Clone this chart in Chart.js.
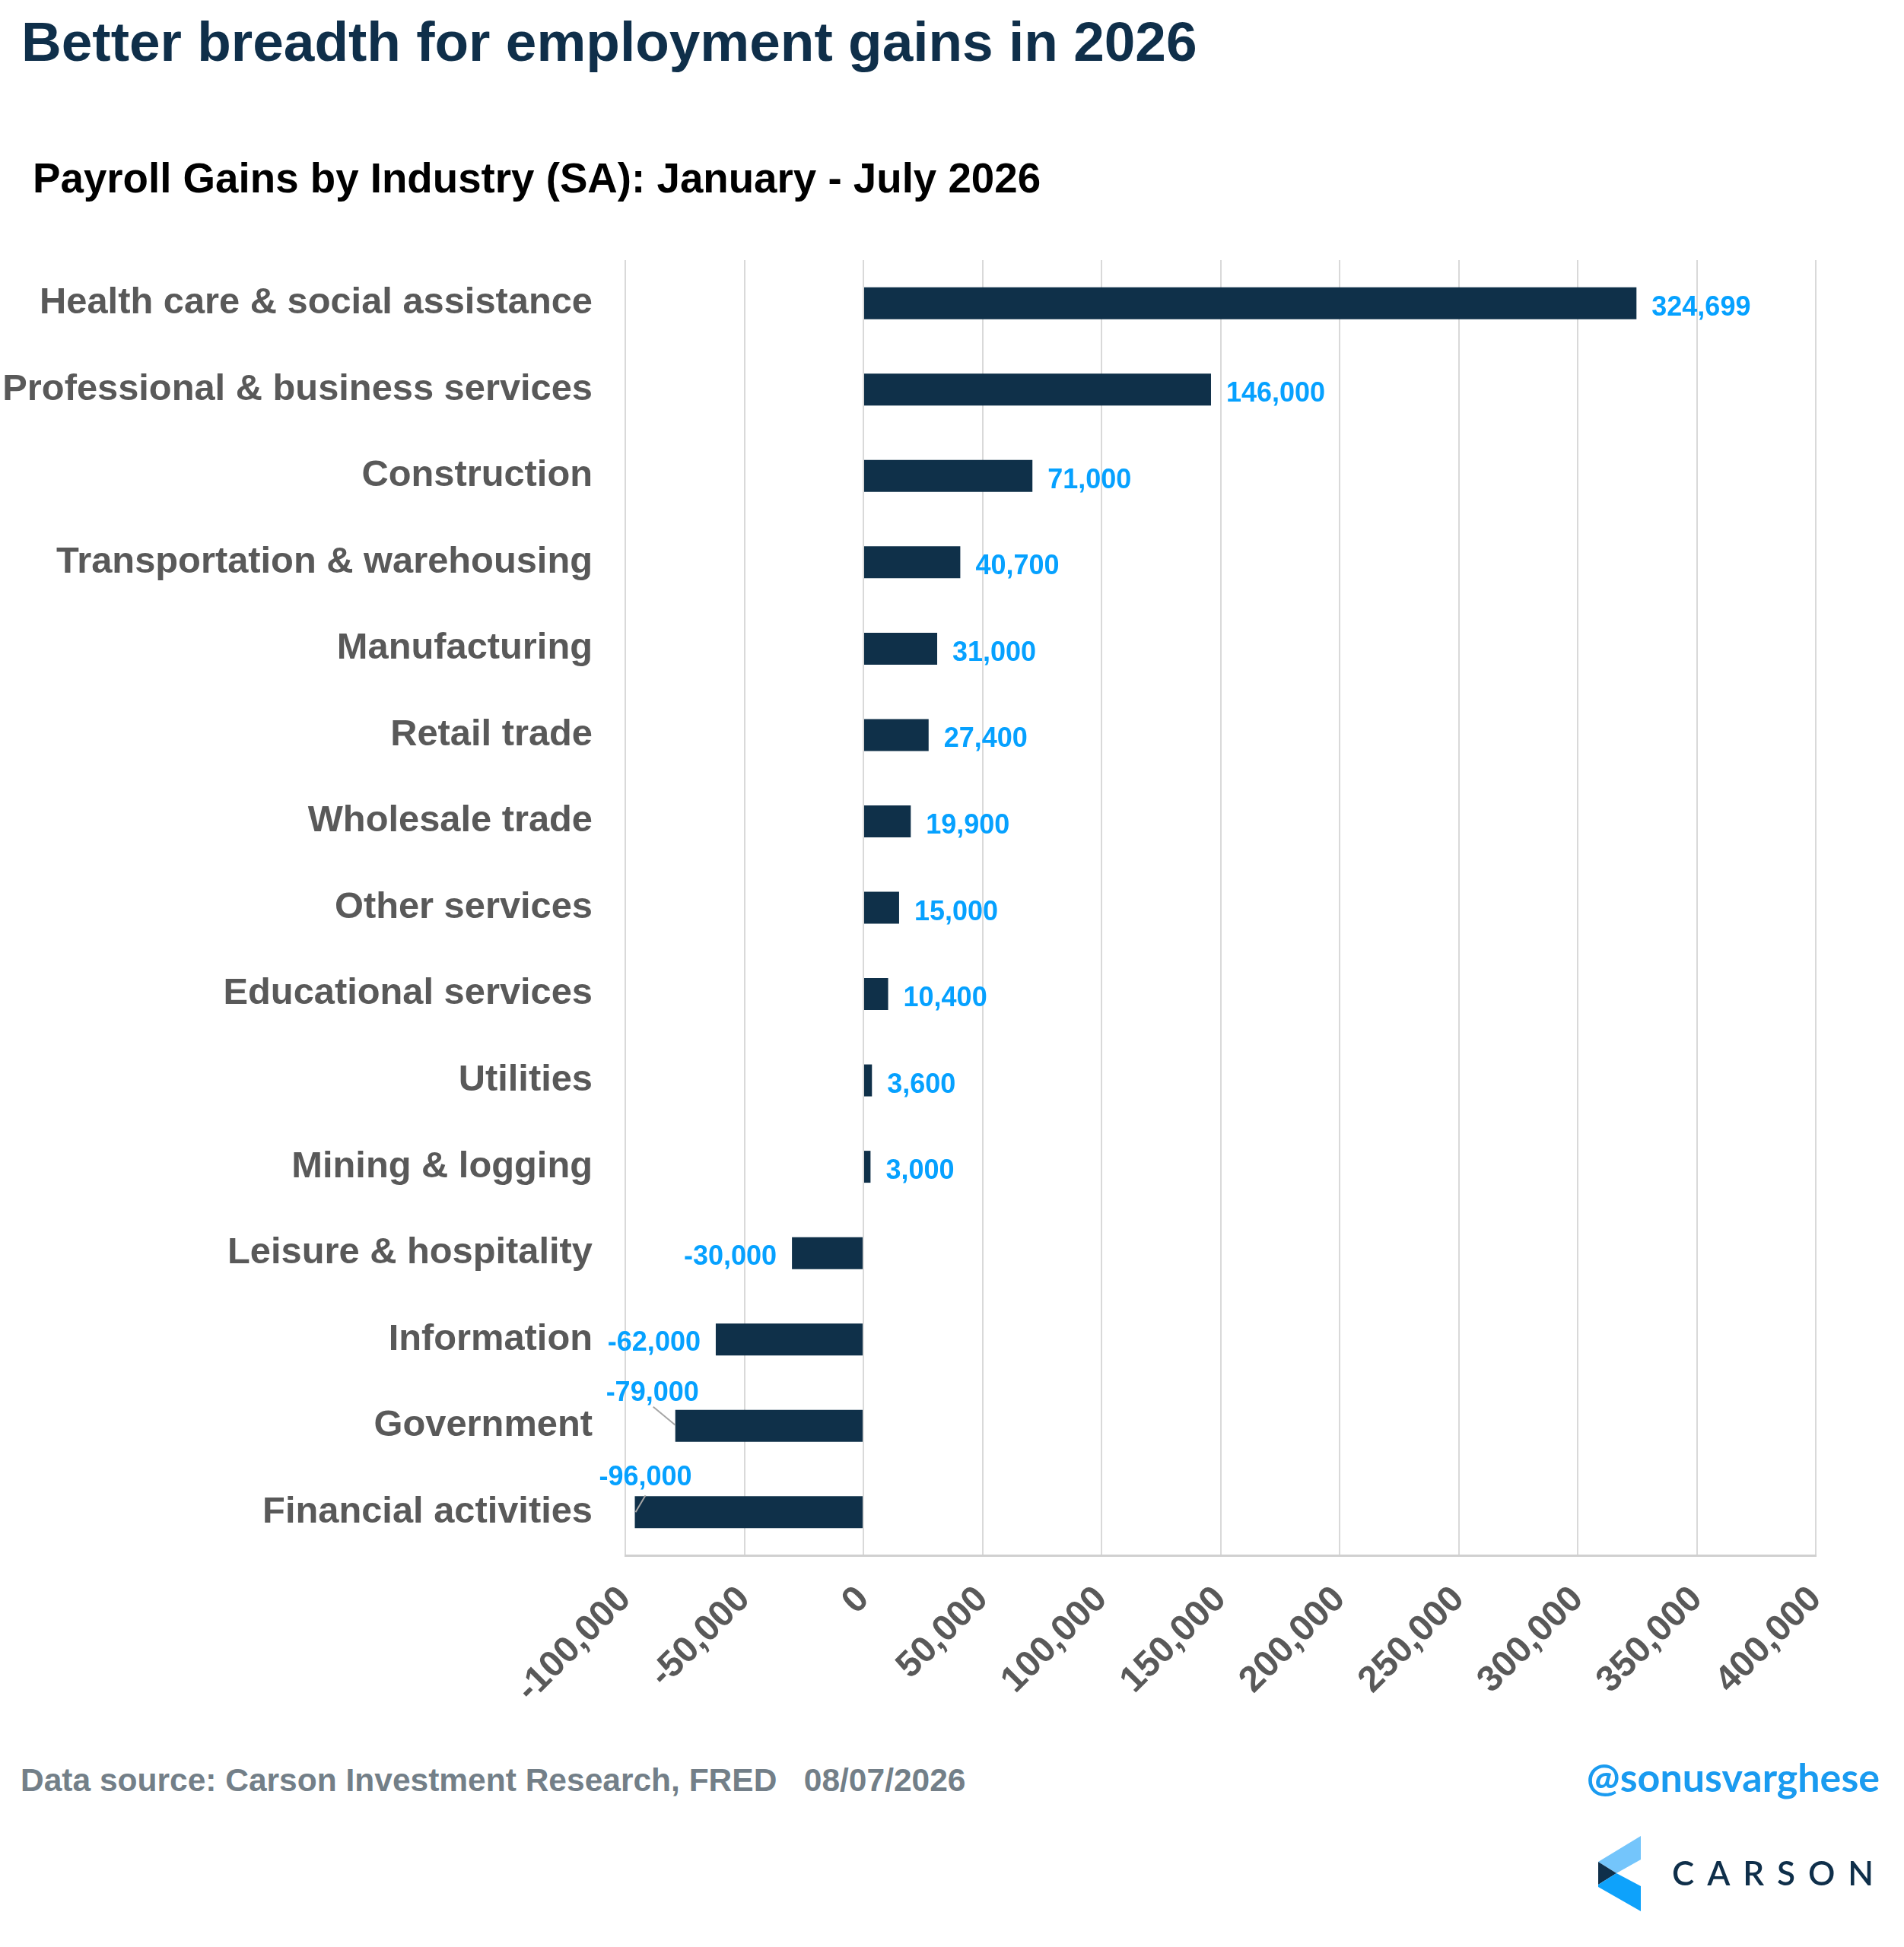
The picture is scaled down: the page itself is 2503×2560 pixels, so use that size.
<!DOCTYPE html>
<html>
<head>
<meta charset="utf-8">
<script src="https://cdn.jsdelivr.net/npm/chart.js@4.4.1/dist/chart.umd.min.js"></script>
<style>
    html, body { margin: 0; padding: 0; background: #fff; }
    body { width: 2503px; height: 2560px; position: relative; overflow: hidden; font-family: "Liberation Sans", Arial, sans-serif; }
    .txt { position: absolute; white-space: pre; line-height: 1; font-weight: bold; }
    #title { left: 28px; top: 18px; font-size: 73px; color: #0f2f4a; }
    #subtitle { left: 43px; top: 207px; font-size: 54.7px; color: #000; }
    #source { left: 27px; top: 2320px; font-size: 42.5px; color: #737f88; }
    #handle { right: 32px; top: 2310px; font-size: 52px; color: #1a9bf0; font-family: Lato, "Open Sans", sans-serif; }
    #chartBox { position: absolute; left: 0; top: 300px; width: 2503px; height: 2000px; }
    #logo { position: absolute; left: 0; top: 0; }
</style>
</head>
<body>
<div id="title" class="txt">Better breadth for employment gains in 2026</div>
<div id="subtitle" class="txt">Payroll Gains by Industry (SA): January - July 2026</div>
<div id="chartBox"><canvas id="barChart" width="2503" height="2000"></canvas></div>
<div id="source" class="txt">Data source: Carson Investment Research, FRED   08/07/2026</div>
<div id="handle" class="txt">@sonusvarghese</div>
<svg id="logo" width="2503" height="2560">
    <polygon points="2101,2448 2157,2414 2157,2445 2125,2463" fill="#74c5fb"/>
    <polygon points="2101,2448 2125,2463 2101,2478" fill="#0f2f4a"/>
    <polygon points="2101,2478 2125,2463 2157,2480 2157,2513 2101,2481" fill="#0ea2fb"/>
    <text x="2198" y="2479" font-family="Lato, 'DejaVu Sans', sans-serif" font-size="44" font-weight="600"
          fill="#0f2f4a" textLength="265" lengthAdjust="spacing">CARSON</text>
</svg>

<script>
// Industries, top to bottom
const industries = [
    'Health care & social assistance',
    'Professional & business services',
    'Construction',
    'Transportation & warehousing',
    'Manufacturing',
    'Retail trade',
    'Wholesale trade',
    'Other services',
    'Educational services',
    'Utilities',
    'Mining & logging',
    'Leisure & hospitality',
    'Information',
    'Government',
    'Financial activities'
];

// Payroll gains, Jan - Jul 2026
const payrollGains = [324699, 146000, 71000, 40700, 31000, 27400, 19900, 15000, 10400, 3600, 3000, -30000, -62000, -79000, -96000];

// x axis range and step
const axisMin = -100000;
const axisMax = 400000;
const axisStep = 50000;

const fmt = v => v.toLocaleString('en-US');

// labels that sit above the bar with a little leader line
const callouts = {
    'Government': { dx: 31, dy: -33, line: [-29, -25, 0, -1] },
    'Financial activities': { dx: 75, dy: -35, line: [14, -22, 1, 0] }
};

const valueLabels = {
    id: 'valueLabels',
    afterDatasetsDraw(chart) {
        const ctx = chart.ctx;
        const meta = chart.getDatasetMeta(0);
        ctx.save();
        ctx.font = 'bold 36px "Liberation Sans", Arial, sans-serif';
        ctx.fillStyle = '#06a1ff';
        ctx.textBaseline = 'alphabetic';
        meta.data.forEach((bar, i) => {
            const v = payrollGains[i];
            const name = industries[i];
            const c = callouts[name];
            if (c) {
                const left = Math.min(bar.x, bar.base);
                ctx.strokeStyle = '#a6a6a6';
                ctx.lineWidth = 2;
                ctx.beginPath();
                ctx.moveTo(left + c.line[0], bar.y + c.line[1]);
                ctx.lineTo(left + c.line[2], bar.y + c.line[3]);
                ctx.stroke();
                ctx.textAlign = 'right';
                ctx.fillText(fmt(v), left + c.dx, bar.y + c.dy);
            } else if (v >= 0) {
                ctx.textAlign = 'left';
                ctx.fillText(fmt(v), bar.x + 20, bar.y + 16);
            } else {
                ctx.textAlign = 'right';
                ctx.fillText(fmt(v), bar.x - 20, bar.y + 15);
            }
        });
        ctx.restore();
    }
};

const config = {
    type: 'bar',
    data: {
        labels: industries,
        datasets: [{
            data: payrollGains,
            backgroundColor: '#0f3049',
            borderWidth: 0,
            barPercentage: 0.37,
            categoryPercentage: 1
        }]
    },
    options: {
        indexAxis: 'y',
        responsive: false,
        animation: false,
        devicePixelRatio: 1,
        layout: { padding: { top: 42, right: 116, bottom: 0, left: 0 } },
        plugins: {
            legend: { display: false },
            tooltip: { enabled: false }
        },
        scales: {
            x: {
                min: axisMin,
                max: axisMax,
                afterFit: scale => { scale.height = 255; },
                grid: { color: '#d9d9d9', lineWidth: 2, drawTicks: false },
                border: { color: '#d0d0d0', width: 3 },
                ticks: {
                    stepSize: axisStep,
                    autoSkip: false,
                    minRotation: 45,
                    maxRotation: 45,
                    padding: 30,
                    color: '#595959',
                    font: { family: '"Liberation Sans", Arial, sans-serif', size: 48, weight: 'bold' },
                    callback: v => fmt(v)
                }
            },
            y: {
                // fixed width, and no extra room above/below for the label halves
                afterFit: scale => {
                    scale.width = 822;
                    scale.paddingTop = 0;
                    scale.paddingBottom = 0;
                },
                grid: { display: false, drawTicks: false },
                border: { display: false },
                ticks: {
                    padding: 43,
                    color: '#595959',
                    font: { family: '"Liberation Sans", Arial, sans-serif', size: 48.8, weight: 'bold' }
                }
            }
        }
    },
    plugins: [valueLabels]
};

new Chart(document.getElementById('barChart'), config);
</script>
</body>
</html>
